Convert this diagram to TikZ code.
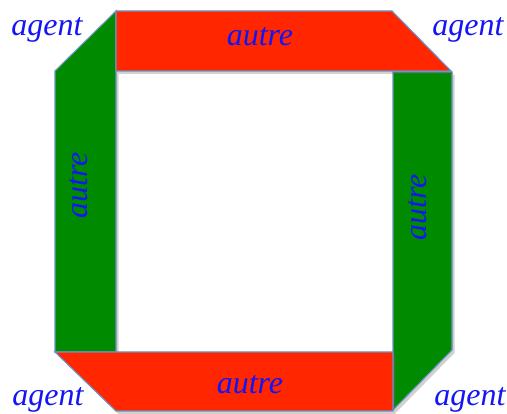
\documentclass[tikz,border=0pt]{standalone}
\usepackage{fontspec}
\setmainfont{Liberation Serif}
\usetikzlibrary{shadows}
\definecolor{bandred}{HTML}{FF2600}
\definecolor{bandgreen}{HTML}{008A00}
\definecolor{edgeblue}{HTML}{6A92C4}
\definecolor{txtblue}{HTML}{1414F5}
\begin{document}
\begin{tikzpicture}[x=1pt,y=-1pt,
  band/.style={draw=edgeblue,line width=1.1pt,line join=miter,
    drop shadow={shadow xshift=2.5pt,shadow yshift=-3pt,opacity=0.3,fill=black!60}},
  lbl/.style={text=txtblue,font=\fontsize{32}{34}\selectfont\itshape,inner sep=0pt}]
\useasboundingbox (0,0) rectangle (507,414);
% left green
\fill[bandgreen,band] (116,11) -- (116,352) -- (55,352) -- (55,71) -- cycle;
% right green
\fill[bandgreen,band] (393,72) -- (452,72) -- (452,350) -- (393,410) -- cycle;
% top red
\fill[bandred,band] (116,11) -- (392,11) -- (451,71) -- (116,71) -- cycle;
% bottom red
\fill[bandred,band] (55,352) -- (393,352) -- (393,411) -- (116,411) -- cycle;
% labels
\node[lbl] (tl) at (47,30) {agent};
\node[lbl] (tr) at (468,30) {agent};
\node[lbl] (bl) at (48,400) {agent};
\node[lbl] (br) at (470,400) {agent};
\node[lbl] (at) at (260,37) {autre};
\node[lbl] (ab) at (250,385) {autre};
\node[lbl,rotate=90] (al) at (79,185) {autre};
\node[lbl,rotate=90] (ar) at (418,207) {autre};
\end{tikzpicture}
\end{document}
